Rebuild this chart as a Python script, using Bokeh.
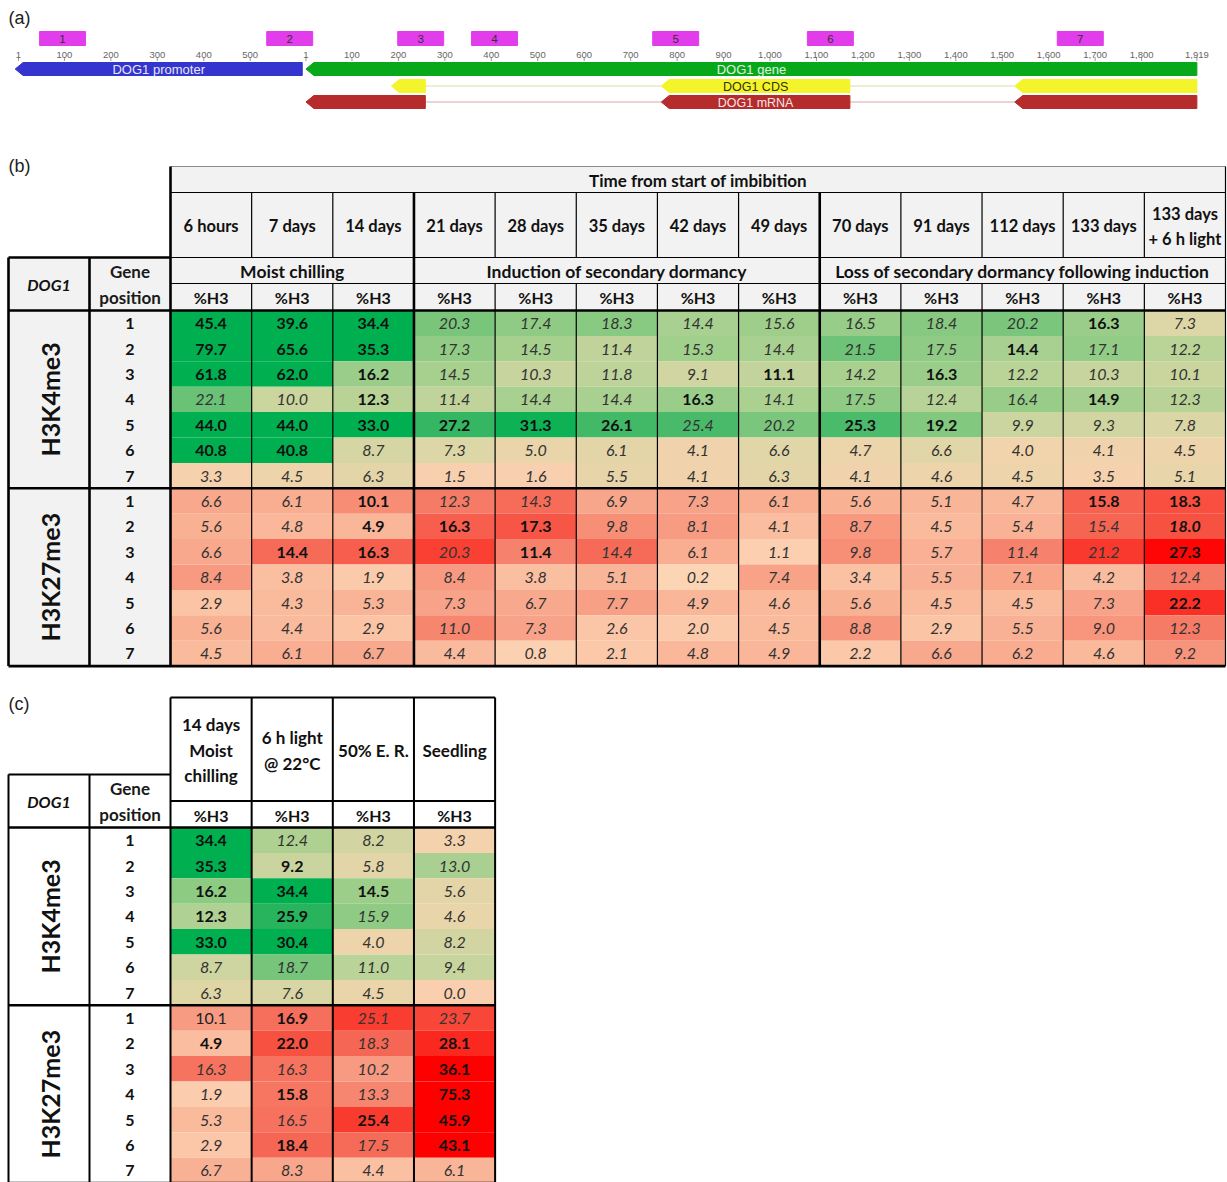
import math
from bokeh.plotting import figure
from bokeh.models import Range1d
from bokeh.core.properties import value
from bokeh.embed import file_html
from bokeh.resources import INLINE

# ======================= DATA =======================
# ---- Panel (a): DOG1 locus map (bp) ----
promoter_tick_values = [1, 100, 200, 300, 400, 500]
gene_tick_values = [1, 100, 200, 300, 400, 500, 600, 700, 800, 900, 1000,
                    1100, 1200, 1300, 1400, 1500, 1600, 1700, 1800, 1919]
gene_tick_labels = ["1", "100", "200", "300", "400", "500", "600", "700", "800", "900",
                    "1,000", "1,100", "1,200", "1,300", "1,400", "1,500", "1,600",
                    "1,700", "1,800", "1,919"]
promoter_span = [-6, 612]
gene_span = [1, 1919]
cds_exon_start = [185, 766, 1527]
cds_exon_end = [258, 1172, 1919]
mrna_exon_start = [1, 766, 1527]
mrna_exon_end = [258, 1172, 1919]
amplicon_ids = ["1", "2", "3", "4", "5", "6", "7"]
amplicon_in_promoter = [True, True, False, False, False, False, False]
amplicon_centre = [96, 585, 248, 407, 797, 1130, 1668]
amplicon_len = 99

# ---- Panel (b) ----
b_time_points = ["6 hours", "7 days", "14 days", "21 days", "28 days", "35 days",
                 "42 days", "49 days", "70 days", "91 days", "112 days", "133 days",
                 "133 days\n+ 6 h light"]
b_phases = ["Moist chilling", "Induction of secondary dormancy",
            "Loss of secondary dormancy following induction"]
b_phase_ncols = [3, 5, 5]
gene_positions = ["1", "2", "3", "4", "5", "6", "7"]
marks = ["H3K4me3", "H3K27me3"]

b_k4 = [
    [45.4, 39.6, 34.4, 20.3, 17.4, 18.3, 14.4, 15.6, 16.5, 18.4, 20.2, 16.3, 7.3],
    [79.7, 65.6, 35.3, 17.3, 14.5, 11.4, 15.3, 14.4, 21.5, 17.5, 14.4, 17.1, 12.2],
    [61.8, 62.0, 16.2, 14.5, 10.3, 11.8, 9.1, 11.1, 14.2, 16.3, 12.2, 10.3, 10.1],
    [22.1, 10.0, 12.3, 11.4, 14.4, 14.4, 16.3, 14.1, 17.5, 12.4, 16.4, 14.9, 12.3],
    [44.0, 44.0, 33.0, 27.2, 31.3, 26.1, 25.4, 20.2, 25.3, 19.2, 9.9, 9.3, 7.8],
    [40.8, 40.8, 8.7, 7.3, 5.0, 6.1, 4.1, 6.6, 4.7, 6.6, 4.0, 4.1, 4.5],
    [3.3, 4.5, 6.3, 1.5, 1.6, 5.5, 4.1, 6.3, 4.1, 4.6, 4.5, 3.5, 5.1],
]
b_k4_style = ["bbbiiiiiiiibi", "bbbiiiiiiibii", "bbbiiiibibiii", "iibiiibiiiibi",
              "bbbbbbiibbiii", "bbiiiiiiiiiii", "iiiiiiiiiiiii"]
b_k27 = [
    [6.6, 6.1, 10.1, 12.3, 14.3, 6.9, 7.3, 6.1, 5.6, 5.1, 4.7, 15.8, 18.3],
    [5.6, 4.8, 4.9, 16.3, 17.3, 9.8, 8.1, 4.1, 8.7, 4.5, 5.4, 15.4, 18.0],
    [6.6, 14.4, 16.3, 20.3, 11.4, 14.4, 6.1, 1.1, 9.8, 5.7, 11.4, 21.2, 27.3],
    [8.4, 3.8, 1.9, 8.4, 3.8, 5.1, 0.2, 7.4, 3.4, 5.5, 7.1, 4.2, 12.4],
    [2.9, 4.3, 5.3, 7.3, 6.7, 7.7, 4.9, 4.6, 5.6, 4.5, 4.5, 7.3, 22.2],
    [5.6, 4.4, 2.9, 11.0, 7.3, 2.6, 2.0, 4.5, 8.8, 2.9, 5.5, 9.0, 12.3],
    [4.5, 6.1, 6.7, 4.4, 0.8, 2.1, 4.8, 4.9, 2.2, 6.6, 6.2, 4.6, 9.2],
]
b_k27_style = ["iibiiiiiiiibb", "iibbbiiiiiiix", "ibbibiiiiiiib", "iiiiiiiiiiiii",
               "iiiiiiiiiiiib", "iiiiiiiiiiiii", "iiiiiiiiiiiii"]

# ---- Panel (c) ----
c_conditions = ["14 days\nMoist\nchilling", "6 h light\n@ 22°C", "50% E. R.", "Seedling"]
c_k4 = [
    [34.4, 12.4, 8.2, 3.3],
    [35.3, 9.2, 5.8, 13.0],
    [16.2, 34.4, 14.5, 5.6],
    [12.3, 25.9, 15.9, 4.6],
    [33.0, 30.4, 4.0, 8.2],
    [8.7, 18.7, 11.0, 9.4],
    [6.3, 7.6, 4.5, 0.0],
]
c_k4_style = ["biii", "bbii", "bbbi", "bbii", "bbii", "iiii", "iiii"]
c_k27 = [
    [10.1, 16.9, 25.1, 23.7],
    [4.9, 22.0, 18.3, 28.1],
    [16.3, 16.3, 10.2, 36.1],
    [1.9, 15.8, 13.3, 75.3],
    [5.3, 16.5, 25.4, 45.9],
    [2.9, 18.4, 17.5, 43.1],
    [6.7, 8.3, 4.4, 6.1],
]
c_k27_style = ["nbii", "bbib", "iiib", "ibib", "iibb", "ibib", "iiii"]

# ======================= STYLE =======================
FONT = "Lato"
SANS = "Liberation Sans"
GREEN_STOPS = [(0.0, (250, 207, 176)), (0.1, (246, 209, 174)), (0.15, (234, 213, 170)),
               (0.25, (216, 214, 164)), (0.4, (178, 210, 148)), (0.55, (138, 202, 130)),
               (0.7, (98, 192, 115)), (0.85, (44, 180, 94)), (1.0, (0, 176, 80))]
RED_STOPS = [(0.0, (252, 214, 182)), (0.15, (250, 188, 158)), (0.3, (247, 154, 129)),
             (0.5, (246, 110, 91)), (0.7, (248, 70, 56)), (1.0, (255, 0, 0))]
STYLE_MAP = {"b": ("bold", "#111111"), "i": ("italic", "#333333"),
             "x": ("bold italic", "#111111"), "n": ("normal", "#222222")}


def scale_color(v, vmax, stops):
    f = min(max(v / vmax, 0.0), 1.0)
    for (f0, c0), (f1, c1) in zip(stops[:-1], stops[1:]):
        if f <= f1:
            t = (f - f0) / (f1 - f0)
            return "#%02x%02x%02x" % tuple(int(round(a + (b - a) * t)) for a, b in zip(c0, c1))
    return "#%02x%02x%02x" % stops[-1][1]


# ======================= FIGURE =======================
W, H = 1227, 1182
X0, X1 = 0.0, 1227.0
Y0, Y1 = 0.0, 1182.0
p = figure(width=W, height=H, x_range=Range1d(X0, X1), y_range=Range1d(Y1, Y0),
           output_backend="svg", toolbar_location=None, min_border=0,
           x_axis_location=None, y_axis_location=None)
p.grid.visible = False
p.outline_line_color = None
p.background_fill_color = "white"
p.border_fill_color = "white"

# bp scale for the locus map
PX_PER_BP = 0.4645
GENE_X = 305.0
p.extra_x_ranges = {"bp": Range1d((X0 - GENE_X) / PX_PER_BP, (X1 - GENE_X) / PX_PER_BP)}
PROM_OFFSET = -619


def add_text(xs, ys, texts, size, style="normal", color="#111111", font=FONT,
             align="center", baseline="middle", angle=0.0, x_range_name="default"):
    p.text(x=xs, y=ys, text=texts, text_font=value(font), text_font_size=f"{size}px",
           text_font_style=style, text_color=color, text_align=align,
           text_baseline=baseline, angle=angle, x_range_name=x_range_name)


# panel labels
add_text([8, 8, 8], [17, 165, 703], ["(a)", "(b)", "(c)"], 18, font=SANS,
         align="left", color="#222222")

# ---------------- Panel (a) ----------------
HEAD = 17


def arrow_left(s, e, yc, half):
    return [s, s + HEAD, e, e, s + HEAD], [yc, yc - half, yc - half, yc + half, yc + half]


# amplicons
amp_x = [c + (PROM_OFFSET if pr else 0) for c, pr in zip(amplicon_centre, amplicon_in_promoter)]
p.rect(x=amp_x, y=[38] * 7, width=amplicon_len, height=14, fill_color="#E23DEB",
       line_color="#E23DEB", x_range_name="bp")
add_text(amp_x, [38.5] * 7, amplicon_ids, 11.5, color="#333333", font=SANS, x_range_name="bp")

# ruler ticks
tick_x = [t + PROM_OFFSET for t in promoter_tick_values] + gene_tick_values
tick_lab = [str(t) for t in promoter_tick_values] + gene_tick_labels
p.segment(x0=tick_x, y0=[56.5] * len(tick_x), x1=tick_x, y1=[60.5] * len(tick_x),
          line_color="#999999", line_width=1, x_range_name="bp")
add_text(tick_x, [54] * len(tick_x), tick_lab, 9.5, color="#666666", font=SANS,
         x_range_name="bp")

# promoter and gene
px, py = arrow_left(promoter_span[0] + PROM_OFFSET, promoter_span[1] + PROM_OFFSET, 68.5, 6.5)
p.patches(xs=[px], ys=[py], fill_color="#3434CE", line_color="#3434CE", x_range_name="bp")
gx, gy = arrow_left(gene_span[0], gene_span[1], 68.5, 6.5)
p.patches(xs=[gx], ys=[gy], fill_color="#07A91B", line_color="#07A91B", x_range_name="bp")

# introns
p.segment(x0=cds_exon_end[:-1], y0=[85.5] * 2, x1=cds_exon_start[1:], y1=[85.5] * 2,
          line_color="#E9E9C4", line_width=1.5, x_range_name="bp")
p.segment(x0=mrna_exon_end[:-1], y0=[101.5] * 2, x1=mrna_exon_start[1:], y1=[101.5] * 2,
          line_color="#E4C4C4", line_width=1.5, x_range_name="bp")
cxs, cys, mxs, mys = [], [], [], []
for s, e in zip(cds_exon_start, cds_exon_end):
    a, b = arrow_left(s, e, 85.5, 6.5)
    cxs.append(a); cys.append(b)
for s, e in zip(mrna_exon_start, mrna_exon_end):
    a, b = arrow_left(s, e, 101.5, 6.5)
    mxs.append(a); mys.append(b)
p.patches(xs=cxs, ys=cys, fill_color="#F4F42A", line_color="#F4F42A", x_range_name="bp")
p.patches(xs=mxs, ys=mys, fill_color="#B62B2B", line_color="#B62B2B", x_range_name="bp")

prom_mid = (promoter_span[0] + promoter_span[1]) / 2 + PROM_OFFSET
gene_mid = (gene_span[0] + gene_span[1]) / 2
ex2_mid = (cds_exon_start[1] + cds_exon_end[1]) / 2
add_text([prom_mid], [68.5], ["DOG1 promoter"], 13, color="#E6E6F5", font=SANS, x_range_name="bp")
add_text([gene_mid], [69], ["DOG1 gene"], 13, color="#E2F2E2", font=SANS, x_range_name="bp")
add_text([ex2_mid], [86], ["DOG1 CDS"], 12.5, color="#333300", font=SANS, x_range_name="bp")
add_text([ex2_mid], [102], ["DOG1 mRNA"], 12.5, color="#F4E6E6", font=SANS, x_range_name="bp")

# ---------------- Tables ----------------
COLW = (1225 - 170) / 13
ROWH = 25.4
LX = [8, 89, 170]


class Lines:
    def __init__(self):
        self.d = {}

    def add(self, x0, y0, x1, y1, w, c="#000000"):
        self.d.setdefault((w, c), ([], [], [], []))
        k = self.d[(w, c)]
        k[0].append(x0); k[1].append(y0); k[2].append(x1); k[3].append(y1)

    def draw(self):
        for (w, c), (a, b, cc, d) in self.d.items():
            p.segment(x0=a, y0=b, x1=cc, y1=d, line_width=w, line_color=c)


def draw_values(data, styles, top, vmax, stops, cols):
    L, R, T, B, colors = [], [], [], [], []
    groups = {}
    for r, row in enumerate(data):
        for c, v in enumerate(row):
            L.append(cols[c]); R.append(cols[c + 1])
            T.append(top + r * ROWH); B.append(top + (r + 1) * ROWH)
            colors.append(scale_color(v, vmax, stops))
            st = styles[r][c]
            g = groups.setdefault(st, ([], [], []))
            g[0].append((cols[c] + cols[c + 1]) / 2)
            g[1].append(top + (r + 0.5) * ROWH + 0.5)
            g[2].append(f"{v:.1f}")
    p.quad(left=L, right=R, top=T, bottom=B, fill_color=colors, line_color=None)
    for st, (gx_, gy_, gt) in groups.items():
        fs, col = STYLE_MAP[st]
        add_text(gx_, gy_, gt, 16, style=fs, color=col)


def draw_left_block(top_head, h3_bot, fill):
    k4_top = h3_bot
    k27_top = k4_top + 7 * ROWH
    bottom = k27_top + 7 * ROWH
    if fill:
        p.quad(left=[LX[0]], right=[LX[2]], top=[top_head], bottom=[bottom],
               fill_color=fill, line_color=None)
    add_text([48.5], [(top_head + h3_bot) / 2], ["DOG1"], 16, style="bold italic")
    add_text([129.5, 129.5], [(top_head + h3_bot) / 2 - 12.5, (top_head + h3_bot) / 2 + 13],
             ["Gene", "position"], 17, style="bold", color="#1a1a1a")
    gy_ = [k4_top + (i + 0.5) * ROWH + 0.5 for i in range(7)] + \
          [k27_top + (i + 0.5) * ROWH + 0.5 for i in range(7)]
    add_text([129.5] * 14, gy_, gene_positions * 2, 16, style="bold")
    add_text([49, 49], [k4_top + 3.5 * ROWH, k27_top + 3.5 * ROWH], marks, 25,
             style="bold", angle=math.pi / 2)
    return k4_top, k27_top, bottom


# ---------------- Panel (b) ----------------
lines = Lines()
b_cols = [170 + i * COLW for i in range(14)]
B_TOP, B_TIME_BOT, B_HEAD_BOT, B_PHASE_BOT, B_H3_BOT = 166, 192, 257, 283, 310
p.quad(left=[170], right=[1225], top=[B_TOP], bottom=[B_H3_BOT], fill_color="#F2F2F2",
       line_color=None)
k4_top, k27_top, b_bottom = draw_left_block(B_HEAD_BOT, B_H3_BOT, "#F2F2F2")
draw_values(b_k4, b_k4_style, k4_top, 33.0, GREEN_STOPS, b_cols)
draw_values(b_k27, b_k27_style, k27_top, 28.0, RED_STOPS, b_cols)

add_text([(170 + 1225) / 2], [179.5], ["Time from start of imbibition"], 17, style="bold")
hx, hy, ht = [], [], []
for i, tp in enumerate(b_time_points):
    parts = tp.split("\n")
    cx = (b_cols[i] + b_cols[i + 1]) / 2
    cy = (B_TIME_BOT + B_HEAD_BOT) / 2 + 1
    for j, part in enumerate(parts):
        hx.append(cx)
        hy.append(cy + (j - (len(parts) - 1) / 2) * 25)
        ht.append(part)
add_text(hx, hy, ht, 16.5, style="bold")
c0 = 0
px_, pt_ = [], []
for ph, n in zip(b_phases, b_phase_ncols):
    px_.append((b_cols[c0] + b_cols[c0 + n]) / 2)
    pt_.append(ph)
    c0 += n
add_text(px_, [270.5] * 3, pt_, 17.5, style="bold")
add_text([(b_cols[i] + b_cols[i + 1]) / 2 for i in range(13)], [297] * 13, ["%H3"] * 13, 16,
         style="bold")

# borders (b)
THIN, THICK = 1.2, 2.6
lines.add(170, B_TOP, 1225, B_TOP, 1.2, "#8a8a8a")
lines.add(170, B_TIME_BOT, 1225, B_TIME_BOT, THIN)
lines.add(LX[0], B_HEAD_BOT, 170, B_HEAD_BOT, THICK)
lines.add(170, B_HEAD_BOT, 1225, B_HEAD_BOT, THIN)
lines.add(170, B_PHASE_BOT, 1225, B_PHASE_BOT, THIN)
for yy in (B_H3_BOT, k27_top, b_bottom):
    lines.add(LX[0], yy, 1225, yy, THICK)
lines.add(LX[0], B_HEAD_BOT, LX[0], b_bottom, THICK)
lines.add(LX[1], B_HEAD_BOT, LX[1], b_bottom, THICK)
lines.add(170, B_TOP, 170, b_bottom, THICK)
lines.add(1225, B_TOP, 1225, b_bottom, THIN)
c0 = 0
phase_edges = []
for n in b_phase_ncols[:-1]:
    c0 += n
    phase_edges.append(c0)
for i in range(1, 13):
    if i in phase_edges:
        lines.add(b_cols[i], B_TIME_BOT, b_cols[i], b_bottom, THICK)
    else:
        lines.add(b_cols[i], B_TIME_BOT, b_cols[i], B_HEAD_BOT, THIN)
        lines.add(b_cols[i], B_PHASE_BOT, b_cols[i], b_bottom, THIN)

# ---------------- Panel (c) ----------------
c_cols = [170 + i * COLW for i in range(5)]
C_TOP, C_HEAD_BOT, C_LEFT_TOP, C_H3_BOT = 697, 800.5, 774, 827
ck4_top, ck27_top, c_bottom = draw_left_block(C_LEFT_TOP, C_H3_BOT, None)
draw_values(c_k4, c_k4_style, ck4_top, 30.0, GREEN_STOPS, c_cols)
draw_values(c_k27, c_k27_style, ck27_top, 34.0, RED_STOPS, c_cols)
hx, hy, ht = [], [], []
for i, cond in enumerate(c_conditions):
    parts = cond.split("\n")
    cx = (c_cols[i] + c_cols[i + 1]) / 2
    cy = (C_TOP + C_HEAD_BOT) / 2 + 1
    for j, part in enumerate(parts):
        hx.append(cx)
        hy.append(cy + (j - (len(parts) - 1) / 2) * 25.5)
        ht.append(part)
add_text(hx, hy, ht, 17, style="bold")
add_text([(c_cols[i] + c_cols[i + 1]) / 2 for i in range(4)], [814.5] * 4, ["%H3"] * 4, 16,
         style="bold")
CW = 2.0
lines.add(170, C_TOP, c_cols[-1], C_TOP, CW)
lines.add(170, C_HEAD_BOT, c_cols[-1], C_HEAD_BOT, CW)
lines.add(LX[0], C_LEFT_TOP, 170, C_LEFT_TOP, CW)
for yy in (C_H3_BOT, ck27_top, c_bottom):
    lines.add(LX[0], yy, c_cols[-1], yy, THICK)
lines.add(LX[0], C_LEFT_TOP, LX[0], c_bottom, CW)
lines.add(LX[1], C_LEFT_TOP, LX[1], c_bottom, CW)
for xx in c_cols:
    lines.add(xx, C_TOP, xx, c_bottom, CW)

lines.draw()

open("out.html", "w").write(file_html(p, INLINE))
